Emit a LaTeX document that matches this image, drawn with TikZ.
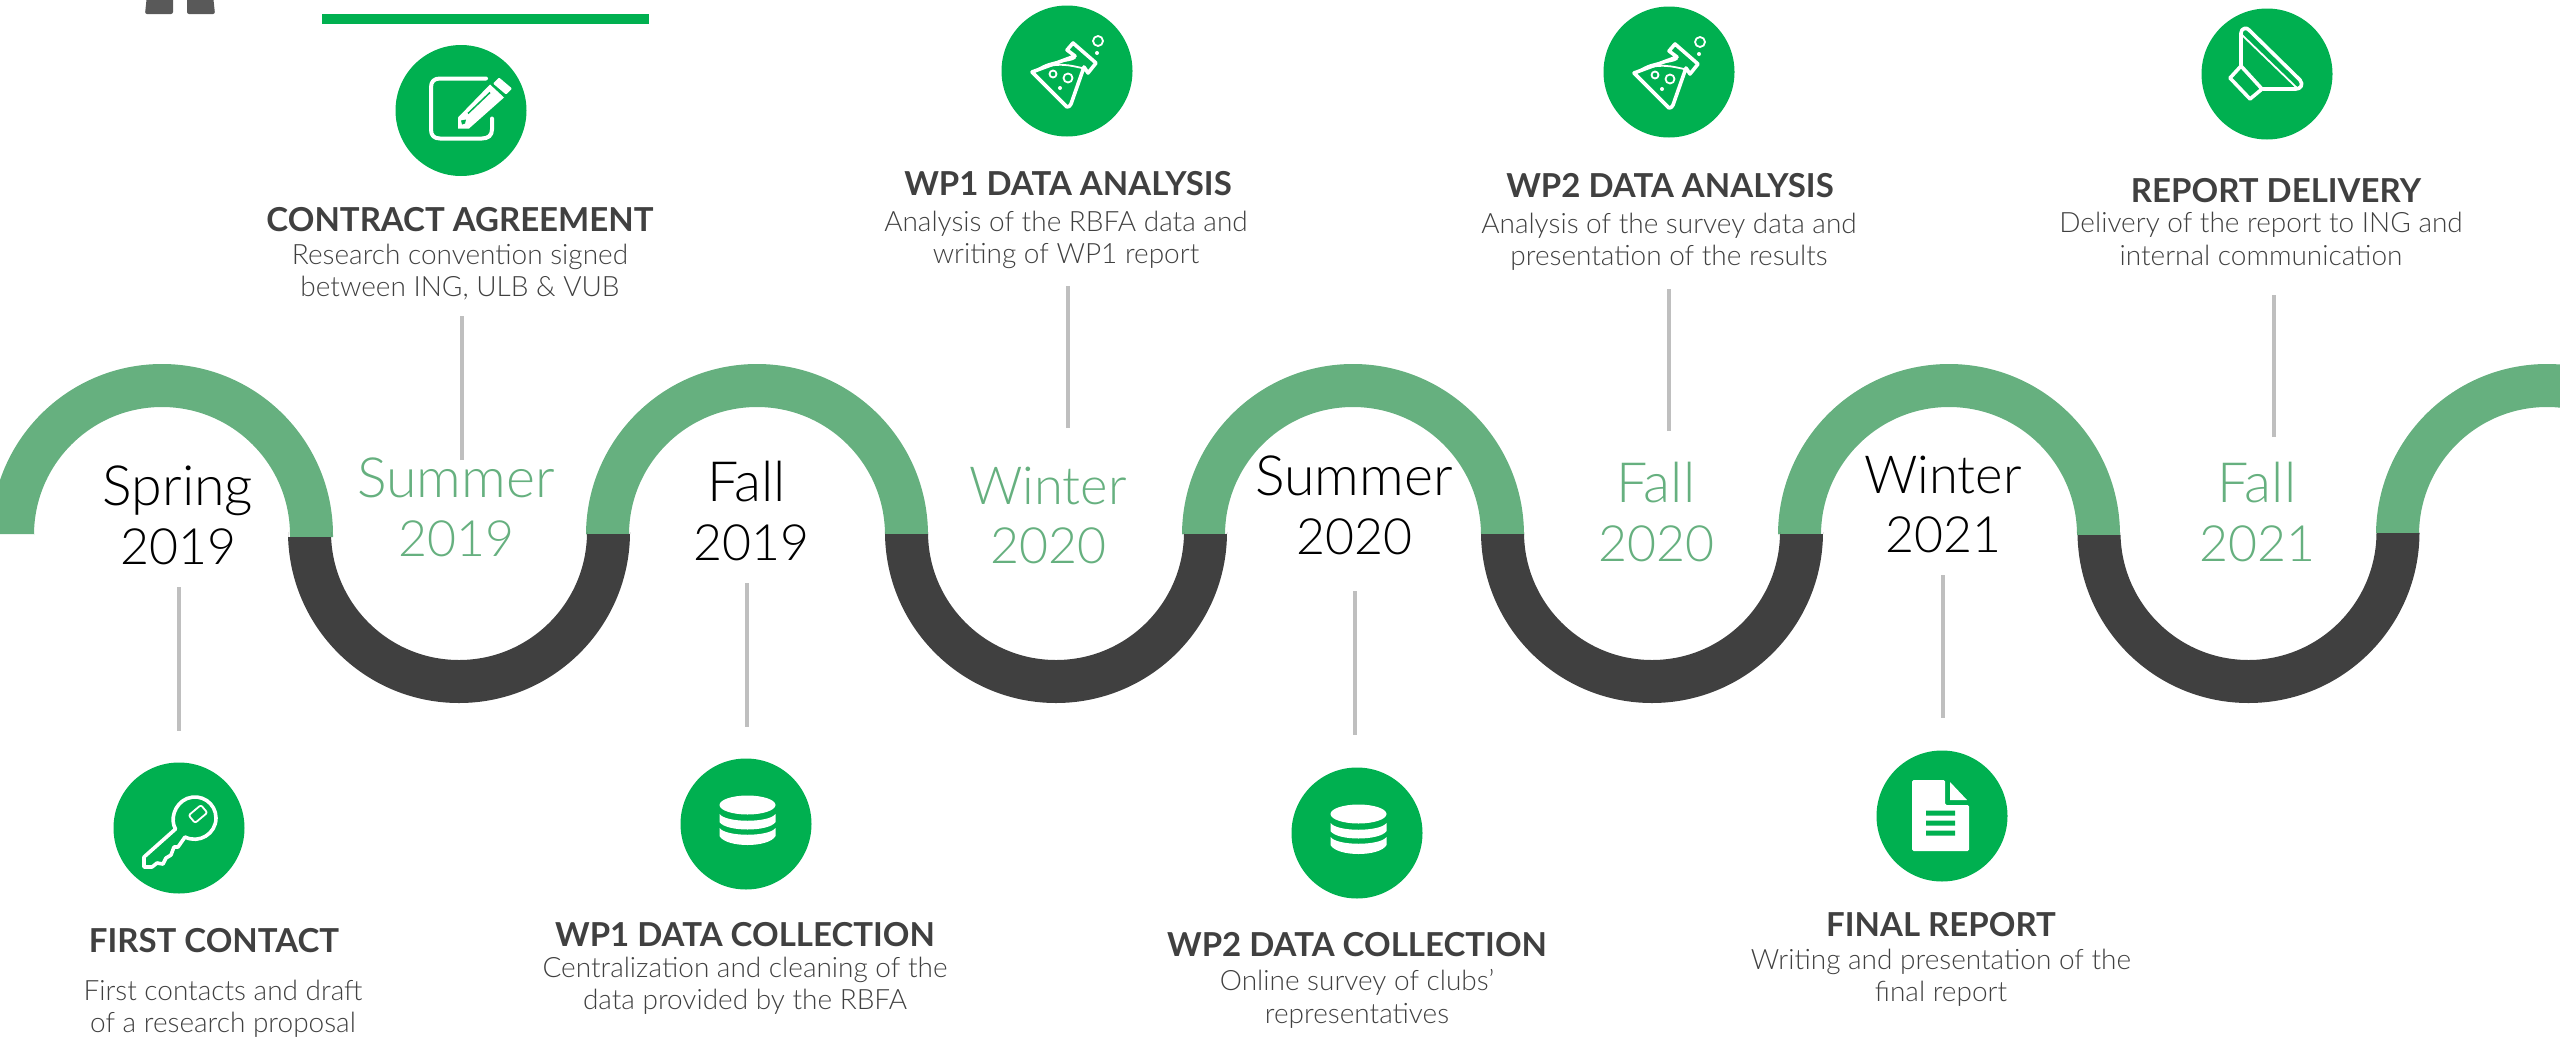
\documentclass[tikz,border=0pt]{standalone}
\usepackage{fontspec}
\setmainfont{Lato}
\newfontfamily\lightf{Lato Light}
\definecolor{iconG}{HTML}{00B050}
\definecolor{archG}{HTML}{66B07F}
\definecolor{darkA}{HTML}{404040}
\definecolor{bodyT}{HTML}{404040}
\definecolor{lineG}{HTML}{BFBFBF}
\definecolor{topG}{HTML}{595959}
\tikzset{
 iconc/.style={circle,fill=iconG,minimum size=131pt,inner sep=0pt},
 conn/.style={lineG,line width=4pt},
 titlet/.style={font=\bfseries\fontsize{33}{36}\selectfont,text=darkA,inner sep=0pt,anchor=center},
 bodyt/.style={font=\lightf\fontsize{28}{32.5}\selectfont,text=bodyT,align=center,inner sep=0pt,anchor=center},
 yearK/.style={font=\lightf\fontsize{50}{59}\selectfont,text=black,align=center,inner sep=0pt,anchor=center},
 yearG/.style={yearK,text=archG},
 ico/.style={white,line width=3.6pt,line join=round,line cap=round},
 icot/.style={white,line width=1.8pt,line join=round,line cap=round}
}
\newcommand\yl[2]{{\fontsize{55.5}{59}\selectfont #1}\\#2}
\newcommand\ylw[2]{{\fontsize{52.5}{59}\selectfont #1}\\#2}
\newcommand\garch[3]{\fill[archG] (#1-171,#2) -- (#1-171,535) arc[start angle=180,end angle=0,radius=171pt] -- (#1+171,#3) -- (#1+128,#3) -- (#1+128,535) arc[start angle=0,end angle=180,radius=128pt] -- (#1-128,#2) -- cycle;}
\newcommand\darch[3]{\fill[darkA] (#1-171,#2) -- (#1-171,532) arc[start angle=180,end angle=360,radius=171pt] -- (#1+171,#3) -- (#1+128,#3) -- (#1+128,532) arc[start angle=360,end angle=180,radius=128pt] -- (#1-128,#2) -- cycle;}
\newcommand\flaskicon[1]{\begin{scope}[shift={(#1)}]
 \draw[ico] (-35,1) -- (0,36) .. controls (2,36) and (3,35) .. (4,33) -- (17,-4) -- (21,2) -- (29,-8) -- (6,-28) -- (0,-21) -- (8,-15) -- cycle;
 \draw[icot] (-30,-1) .. controls (-15,-12) and (0,-8) .. (8,-13);
 \draw[icot] (-30,-1) .. controls (-10,-10) and (5,-5) .. (15,-3);
 \draw[icot] (-14,3) circle[radius=3.5pt];
 \draw[icot] (1,7) circle[radius=4.5pt];
 \fill[white] (-7,17) circle[radius=2pt] (30,-18) circle[radius=2pt];
 \draw[icot] (31,-30) circle[radius=5pt];
\end{scope}}
\newcommand\dbicon[1]{\begin{scope}[shift={(#1)}]
 \fill[white] (1.5,-19) ellipse[x radius=28pt,y radius=9.5pt];
 \fill[white] (-26.5,-10) .. controls (-20,-1) and (23,-1) .. (29.5,-10) -- (29.5,-2) .. controls (23,8) and (-20,8) .. (-26.5,-2) -- cycle;
 \fill[white] (-26.5,4) .. controls (-20,13) and (23,13) .. (29.5,4) -- (29.5,12) .. controls (23,24) and (-20,24) .. (-26.5,12) -- cycle;
\end{scope}}
\begin{document}
\begin{tikzpicture}[x=1pt,y=-1pt]
\useasboundingbox (0,0) rectangle (2560,1039);
\path[clip] (0,0) rectangle (2560,1039);
% top fragments
\fill[iconG] (322,14) rectangle (649,24);
\fill[topG,rounded corners=2pt] (147,-5) -- (145,14) -- (173,14) -- (173,-5) -- cycle;
\fill[topG,rounded corners=2pt] (187,-5) -- (187,14) -- (215,14) -- (213,-5) -- cycle;
% wave
\garch{162}{534}{537}
\garch{757}{534}{534}
\garch{1353}{534}{534}
\garch{1949}{534}{535}
\garch{2547}{533}{533}
\darch{459}{537}{534}
\darch{1056}{534}{534}
\darch{1652}{534}{534}
\darch{2248.5}{535}{533}
% year labels
\node[yearK] (y1) at (178,515.5) {\yl{Spring}{2019}};
\node[yearG] (y2) at (456,507.5) {\yl{Summer}{2019}};
\node[yearK] (y3) at (751,511) {\yl{\hspace*{-9pt}Fall}{2019}};
\node[yearG] (y4) at (1048,515.5) {\ylw{Winter}{2020}};
\node[yearK] (y5) at (1354,505.5) {\yl{Summer}{2020}};
\node[yearG] (y6) at (1656,512) {\yl{Fall}{2020}};
\node[yearK] (y7) at (1943,504.5) {\ylw{Winter}{2021}};
\node[yearG] (y8) at (2257,512) {\yl{Fall}{2021}};
% icon discs
\node[iconc] (i1) at (179,828) {};
\node[iconc] (i2) at (461,110.5) {};
\node[iconc] (i3) at (746,824) {};
\node[iconc] (i4) at (1067,71) {};
\node[iconc] (i5) at (1357,833) {};
\node[iconc] (i6) at (1669,72) {};
\node[iconc] (i7) at (1942,816) {};
\node[iconc] (i8) at (2267,74) {};
% connectors
\coordinate (a1) at (179,587); \coordinate (b1) at (179,731);
\coordinate (a2) at (462,460); \coordinate (b2) at (462,316);
\coordinate (a3) at (747,583); \coordinate (b3) at (747,727);
\coordinate (a4) at (1068,428); \coordinate (b4) at (1068,286);
\coordinate (a5) at (1355,591); \coordinate (b5) at (1355,735);
\coordinate (a6) at (1669,431); \coordinate (b6) at (1669,289);
\coordinate (a7) at (1943,575); \coordinate (b7) at (1943,718);
\coordinate (a8) at (2274,437); \coordinate (b8) at (2274,295);
\foreach \n in {1,...,8} {\draw[conn] (a\n) -- (b\n);}
% key
\begin{scope}[shift={(i1)}]
 \draw[ico] (-3.5,1) .. controls (-9,-8) and (-5,-24) .. (8,-29.5) .. controls (22,-35) and (37,-25) .. (37,-10) .. controls (37,6) and (20,16) .. (6,9) -- (-1,19) -- (-5,19) -- (-8,27) -- (-13,30) -- (-16,36) -- (-22,35) -- (-27,39) -- (-35,39) -- (-35,29) -- cycle;
 \draw[icot,rounded corners=2pt,rotate around={40:(19,-14)}] (11,-19) rectangle (27,-9);
\end{scope}
% edit
\begin{scope}[shift={(i2)}]
 \draw[ico,line width=4pt] (25,-32) -- (-21,-32) .. controls (-27,-32) and (-30,-29) .. (-30,-23) -- (-30,19) .. controls (-30,25) and (-27,28) .. (-21,28) -- (21,28) .. controls (27,28) and (31,25) .. (31,19) -- (31,8);
 \fill[white,rounded corners=1pt] (32,-27) -- (38,-33) -- (51,-22) -- (45,-16) -- cycle;
 \fill[white] (29,-26) -- (43,-13) -- (8,18) -- (-3,18) -- (-3,7) -- cycle;
 \draw[iconG,line width=1.5pt] (7,3) -- (29,-18);
 \fill[iconG] (0,10) -- (5,9) -- (4,13) -- (1,14) -- cycle;
\end{scope}
\flaskicon{i4}
\flaskicon{i6}
\dbicon{i3}
\dbicon{i5}
% document
\begin{scope}[shift={(i7)}]
 \fill[white,rounded corners=1.5pt] (-30,-36) -- (3,-36) -- (3,-14) .. controls (3,-12) and (4,-11) .. (6,-11) -- (27,-11) -- (27,35) -- (-30,35) -- cycle;
 \fill[white] (8,-34) -- (25,-16) -- (8,-16) -- cycle;
 \fill[iconG] (-16,-5.5) rectangle (13,-0.5) (-16,4.5) rectangle (13,9.5) (-16,14.5) rectangle (13,19.5);
\end{scope}
% speaker
\begin{scope}[shift={(i8)}]
 \draw[ico] (-26,-8) -- (-26,-41) .. controls (-26,-46) and (-20,-47) .. (-18,-44) -- (33,6) .. controls (37,11) and (33,15) .. (29,15) -- (-4,15);
 \draw[ico] (-26,-8) -- (-37,4) -- (-17,25) -- (-5,15) -- cycle;
 \draw[icot] (-25,-39) -- (30,14);
 \draw[icot] (-25,-6) -- (-6,14);
\end{scope}
% titles and descriptions
\node[titlet] (t1) at (214,941) {FIRST CONTACT};
\node[bodyt] (d1) at (223,1009) {First contacts and draft\\of a research proposal};
\node[titlet] (t2) at (460,220) {CONTRACT AGREEMENT};
\node[bodyt] (d2) at (460,272) {Research convention signed\\between ING, ULB \& VUB};
\node[titlet] (t3) at (745,935) {WP1 DATA COLLECTION};
\node[bodyt] (d3) at (745,986) {Centralization and cleaning of the\\data provided by the RBFA};
\node[titlet] (t4) at (1068,184) {WP1 DATA ANALYSIS};
\node[bodyt] (d4) at (1066,240) {Analysis of the RBFA data and\\writing of WP1 report};
\node[titlet] (t5) at (1357,945) {WP2 DATA COLLECTION};
\node[bodyt] (d5) at (1357,999) {Online survey of clubs’\\representatives};
\node[titlet] (t6) at (1670,186) {WP2 DATA ANALYSIS};
\node[bodyt] (d6) at (1669,242) {Analysis of the survey data and\\presentation of the results};
\node[titlet] (t7) at (1941,925) {FINAL REPORT};
\node[bodyt] (d7) at (1941,978) {Writing and presentation of the\\final report};
\node[titlet] (t8) at (2276,191) {REPORT DELIVERY};
\node[bodyt] (d8) at (2261,239) {Delivery of the report to ING and\\internal communication};
\end{tikzpicture}
\end{document}
